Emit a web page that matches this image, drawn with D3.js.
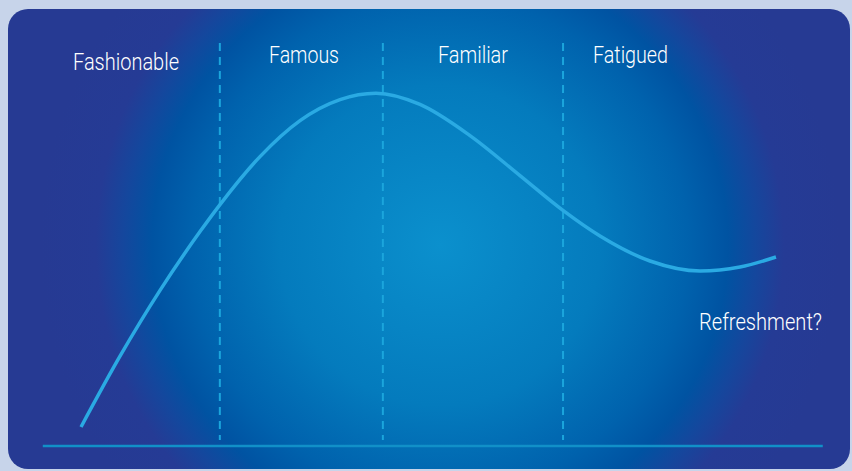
<!DOCTYPE html>
<html>
<head>
<meta charset="utf-8">
<script src="https://cdn.jsdelivr.net/npm/d3@7"></script>
<style>
  html, body { margin: 0; padding: 0; background: #c7d4ea; }
  svg { display: block; }
</style>
</head>
<body>
<svg id="chart" width="852" height="471"></svg>
<script>
// Life cycle stages and the boundaries between them (x in cycle units, 0–100)
const stages = ["Fashionable", "Famous", "Familiar", "Fatigued"];
const boundaries = [22.8, 43.7, 66.8];
const afterword = "Refreshment?";

// Popularity curve: time along the cycle and popularity level (0–100)
const cycleX = [5.0, 10.0, 15.13, 20.26, 22.82, 27.95, 33.08, 38.21, 42.82, 48.46, 54.87, 61.28, 66.79, 71.54, 77.95, 84.36, 89.49, 94.1];
const cycleY = [4.75, 22.45, 38.9, 53.6, 60.35, 72.35, 81.35, 86.6, 88.2, 85.4, 77.6, 67.6, 58.9, 52.5, 46.25, 43.75, 44.75, 47.25];

const svg = d3.select("#chart");

// Panel background with radial glow
const defs = svg.append("defs");
const grad = defs.append("radialGradient")
  .attr("id", "glow")
  .attr("gradientUnits", "userSpaceOnUse")
  .attr("cx", 440).attr("cy", 245).attr("r", 400);
[[0, "#0b90cd"], [0.4, "#047bbd"], [0.62, "#0062ad"], [0.72, "#0053a2"], [0.79, "#14479d"], [0.86, "#253b95"], [1, "#263a93"]]
  .forEach(([o, c]) => grad.append("stop").attr("offset", o).attr("stop-color", c));

svg.append("rect")
  .attr("x", 8).attr("y", 9)
  .attr("width", 842).attr("height", 460)
  .attr("rx", 20).attr("ry", 20)
  .attr("fill", "url(#glow)");

const x = d3.scaleLinear().domain([0, 100]).range([42, 822]);
const y = d3.scaleLinear().domain([0, 100]).range([446, 46]);

// Baseline
svg.append("line")
  .attr("x1", x(0.1)).attr("x2", x(100.1))
  .attr("y1", y(0)).attr("y2", y(0))
  .attr("stroke", "#1190c8").attr("stroke-width", 2.5);

// Stage dividers
svg.selectAll("line.divider")
  .data(boundaries)
  .join("line")
  .attr("class", "divider")
  .attr("x1", d => x(d)).attr("x2", d => x(d))
  .attr("y1", 43).attr("y2", 440)
  .attr("stroke", "#1ba5dc").attr("stroke-width", 2)
  .attr("stroke-dasharray", "8,6");

// Curve
const pts = cycleX.map((v, i) => [v, cycleY[i]]);
const line = d3.line()
  .x(d => x(d[0]))
  .y(d => y(d[1]))
  .curve(d3.curveMonotoneX);

svg.append("path")
  .attr("d", line(pts))
  .attr("fill", "none")
  .attr("stroke", "#2aaae3")
  .attr("stroke-width", 3.5)
  .attr("stroke-linecap", "butt");

// Stage labels (anchor point and fitted width)
const labelPos = [[73, 70, 106], [269, 63, 70], [438, 63, 70], [593, 63, 75]];
const font = "Roboto, 'Liberation Sans', Arial, sans-serif";
svg.selectAll("text.stage")
  .data(stages)
  .join("text")
  .attr("class", "stage")
  .attr("x", (d, i) => labelPos[i][0])
  .attr("y", (d, i) => labelPos[i][1])
  .attr("textLength", (d, i) => labelPos[i][2])
  .attr("lengthAdjust", "spacingAndGlyphs")
  .attr("fill", "#ffffff")
  .style("font-family", font)
  .style("font-weight", 300)
  .style("font-size", "23.5px")
  .text(d => d);

svg.append("text")
  .attr("x", 699).attr("y", 330)
  .attr("textLength", 123)
  .attr("lengthAdjust", "spacingAndGlyphs")
  .attr("fill", "#ffffff")
  .style("font-family", font)
  .style("font-weight", 300)
  .style("font-size", "23.5px")
  .text(afterword);
</script>
</body>
</html>
